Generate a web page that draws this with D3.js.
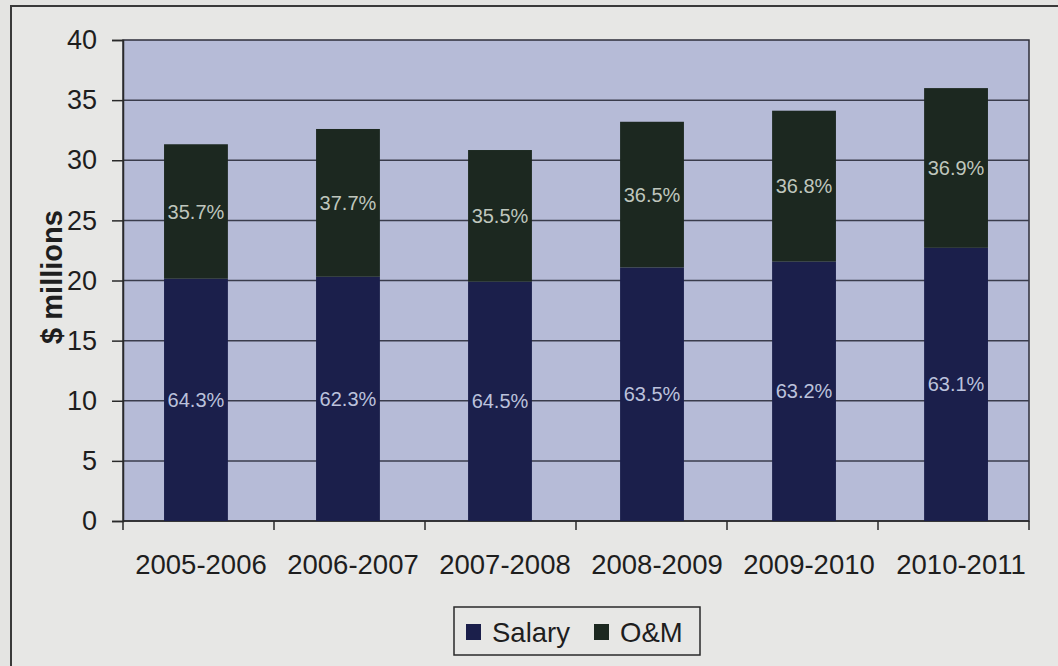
<!DOCTYPE html>
<html>
<head>
<meta charset="utf-8">
<script src="https://cdn.jsdelivr.net/npm/d3@7"></script>
<style>
  html, body { margin: 0; padding: 0; background: #e4e4e2; }
  svg { display: block; font-family: "Liberation Sans", Arial, sans-serif; }
</style>
</head>
<body>
<svg id="chart" width="1058" height="666"></svg>
<script>
// Budget split by fiscal year ($ millions)
const years = ["2005-2006", "2006-2007", "2007-2008", "2008-2009", "2009-2010", "2010-2011"];
const totals = [31.33, 32.6, 30.85, 33.2, 34.12, 36.0];
const salaryPct = [64.3, 62.3, 64.5, 63.5, 63.2, 63.1];
const omPct = [35.7, 37.7, 35.5, 36.5, 36.8, 36.9];
const yTicks = [0, 5, 10, 15, 20, 25, 30, 35, 40];
const seriesNames = ["Salary", "O&M"];
const seriesColors = ["#1b1f4b", "#1c2820"];

const rows = years.map((yr, i) => {
  const salary = totals[i] * salaryPct[i] / 100;
  return { year: yr, Salary: salary, "O&M": totals[i] - salary, pct: [salaryPct[i], omPct[i]] };
});

const svg = d3.select("#chart");
const W = 1058, H = 666;
const plot = { left: 123, right: 1029, top: 40, bottom: 521 };

// outer frame
svg.append("rect").attr("x", 11).attr("y", 6).attr("width", W + 10).attr("height", H + 10)
  .attr("fill", "#e7e7e5").attr("stroke", "#3a3a3a").attr("stroke-width", 2);

const x = d3.scaleBand().domain(years).range([plot.left, plot.right]).paddingInner(0.58).paddingOuter(0.27);
const xTickScale = d3.scaleLinear().domain([0, years.length]).range([plot.left, plot.right]);
const y = d3.scaleLinear().domain([0, 40]).range([plot.bottom, plot.top]);

// plot area
svg.append("rect").attr("x", plot.left).attr("y", plot.top)
  .attr("width", plot.right - plot.left).attr("height", plot.bottom - plot.top)
  .attr("fill", "#b6bbd7").attr("stroke", "#2e2e3a").attr("stroke-width", 1.5);

// gridlines
svg.append("g").selectAll("line").data(yTicks.filter(t => t > 0 && t < 40)).join("line")
  .attr("x1", plot.left).attr("x2", plot.right)
  .attr("y1", d => y(d)).attr("y2", d => y(d))
  .attr("stroke", "#3a3c4c").attr("stroke-width", 1.5);

// y axis
const yAxis = svg.append("g").attr("transform", `translate(${plot.left},0)`)
  .call(d3.axisLeft(y).tickValues(yTicks).tickSize(11).tickPadding(15));
yAxis.select(".domain").attr("stroke", "#2a2a2a").attr("stroke-width", 1.5);
yAxis.selectAll(".tick line").attr("stroke", "#2a2a2a").attr("stroke-width", 1.5);
yAxis.selectAll(".tick text").attr("font-size", 27).attr("fill", "#1e1e1e")
  .attr("font-family", "Liberation Sans, Arial, sans-serif");

// x axis line and ticks between categories
svg.append("line").attr("x1", plot.left).attr("x2", plot.right)
  .attr("y1", plot.bottom).attr("y2", plot.bottom).attr("stroke", "#2a2a2a").attr("stroke-width", 1.5);
svg.append("g").selectAll("line").data(d3.range(years.length + 1)).join("line")
  .attr("x1", d => xTickScale(d)).attr("x2", d => xTickScale(d))
  .attr("y1", plot.bottom).attr("y2", plot.bottom + 9)
  .attr("stroke", "#2a2a2a").attr("stroke-width", 1.5);
svg.append("g").selectAll("text").data(years).join("text")
  .attr("x", d => x(d) + x.bandwidth() / 2 + 5).attr("y", 574)
  .attr("text-anchor", "middle").attr("font-size", 27.5).attr("fill", "#1e1e1e")
  .text(d => d);

// stacked bars
const stack = d3.stack().keys(seriesNames)(rows);
const layers = svg.append("g").selectAll("g").data(stack).join("g")
  .attr("fill", (d, i) => seriesColors[i]);
layers.selectAll("rect").data(d => d).join("rect")
  .attr("x", d => x(d.data.year)).attr("width", x.bandwidth())
  .attr("y", d => y(d[1])).attr("height", d => y(d[0]) - y(d[1]));

// percentage labels
stack.forEach((layer, si) => {
  svg.append("g").selectAll("text").data(layer).join("text")
    .attr("x", d => x(d.data.year) + x.bandwidth() / 2)
    .attr("y", d => y((d[0] + d[1]) / 2))
    .attr("dy", "0.35em").attr("text-anchor", "middle")
    .attr("font-size", 20).attr("fill", si === 0 ? "#bcc2dc" : "#bfc6bd")
    .text(d => d.data.pct[si].toFixed(1) + "%");
});

// y axis title
svg.append("text").attr("transform", "translate(62,277) rotate(-90)")
  .attr("text-anchor", "middle").attr("font-size", 29).attr("font-weight", "bold")
  .attr("fill", "#1e1e1e").text("$ millions");

// legend
const lg = svg.append("g");
lg.append("rect").attr("x", 454).attr("y", 607).attr("width", 246).attr("height", 48)
  .attr("fill", "none").attr("stroke", "#2a2a2a").attr("stroke-width", 1.5);
const legendX = [466, 594];
seriesNames.forEach((name, i) => {
  lg.append("rect").attr("x", legendX[i]).attr("y", 624).attr("width", 15).attr("height", 16)
    .attr("fill", seriesColors[i]);
  lg.append("text").attr("x", legendX[i] + 26).attr("y", 642)
    .attr("font-size", 27.5).attr("fill", "#1e1e1e").text(name);
});
</script>
</body>
</html>
